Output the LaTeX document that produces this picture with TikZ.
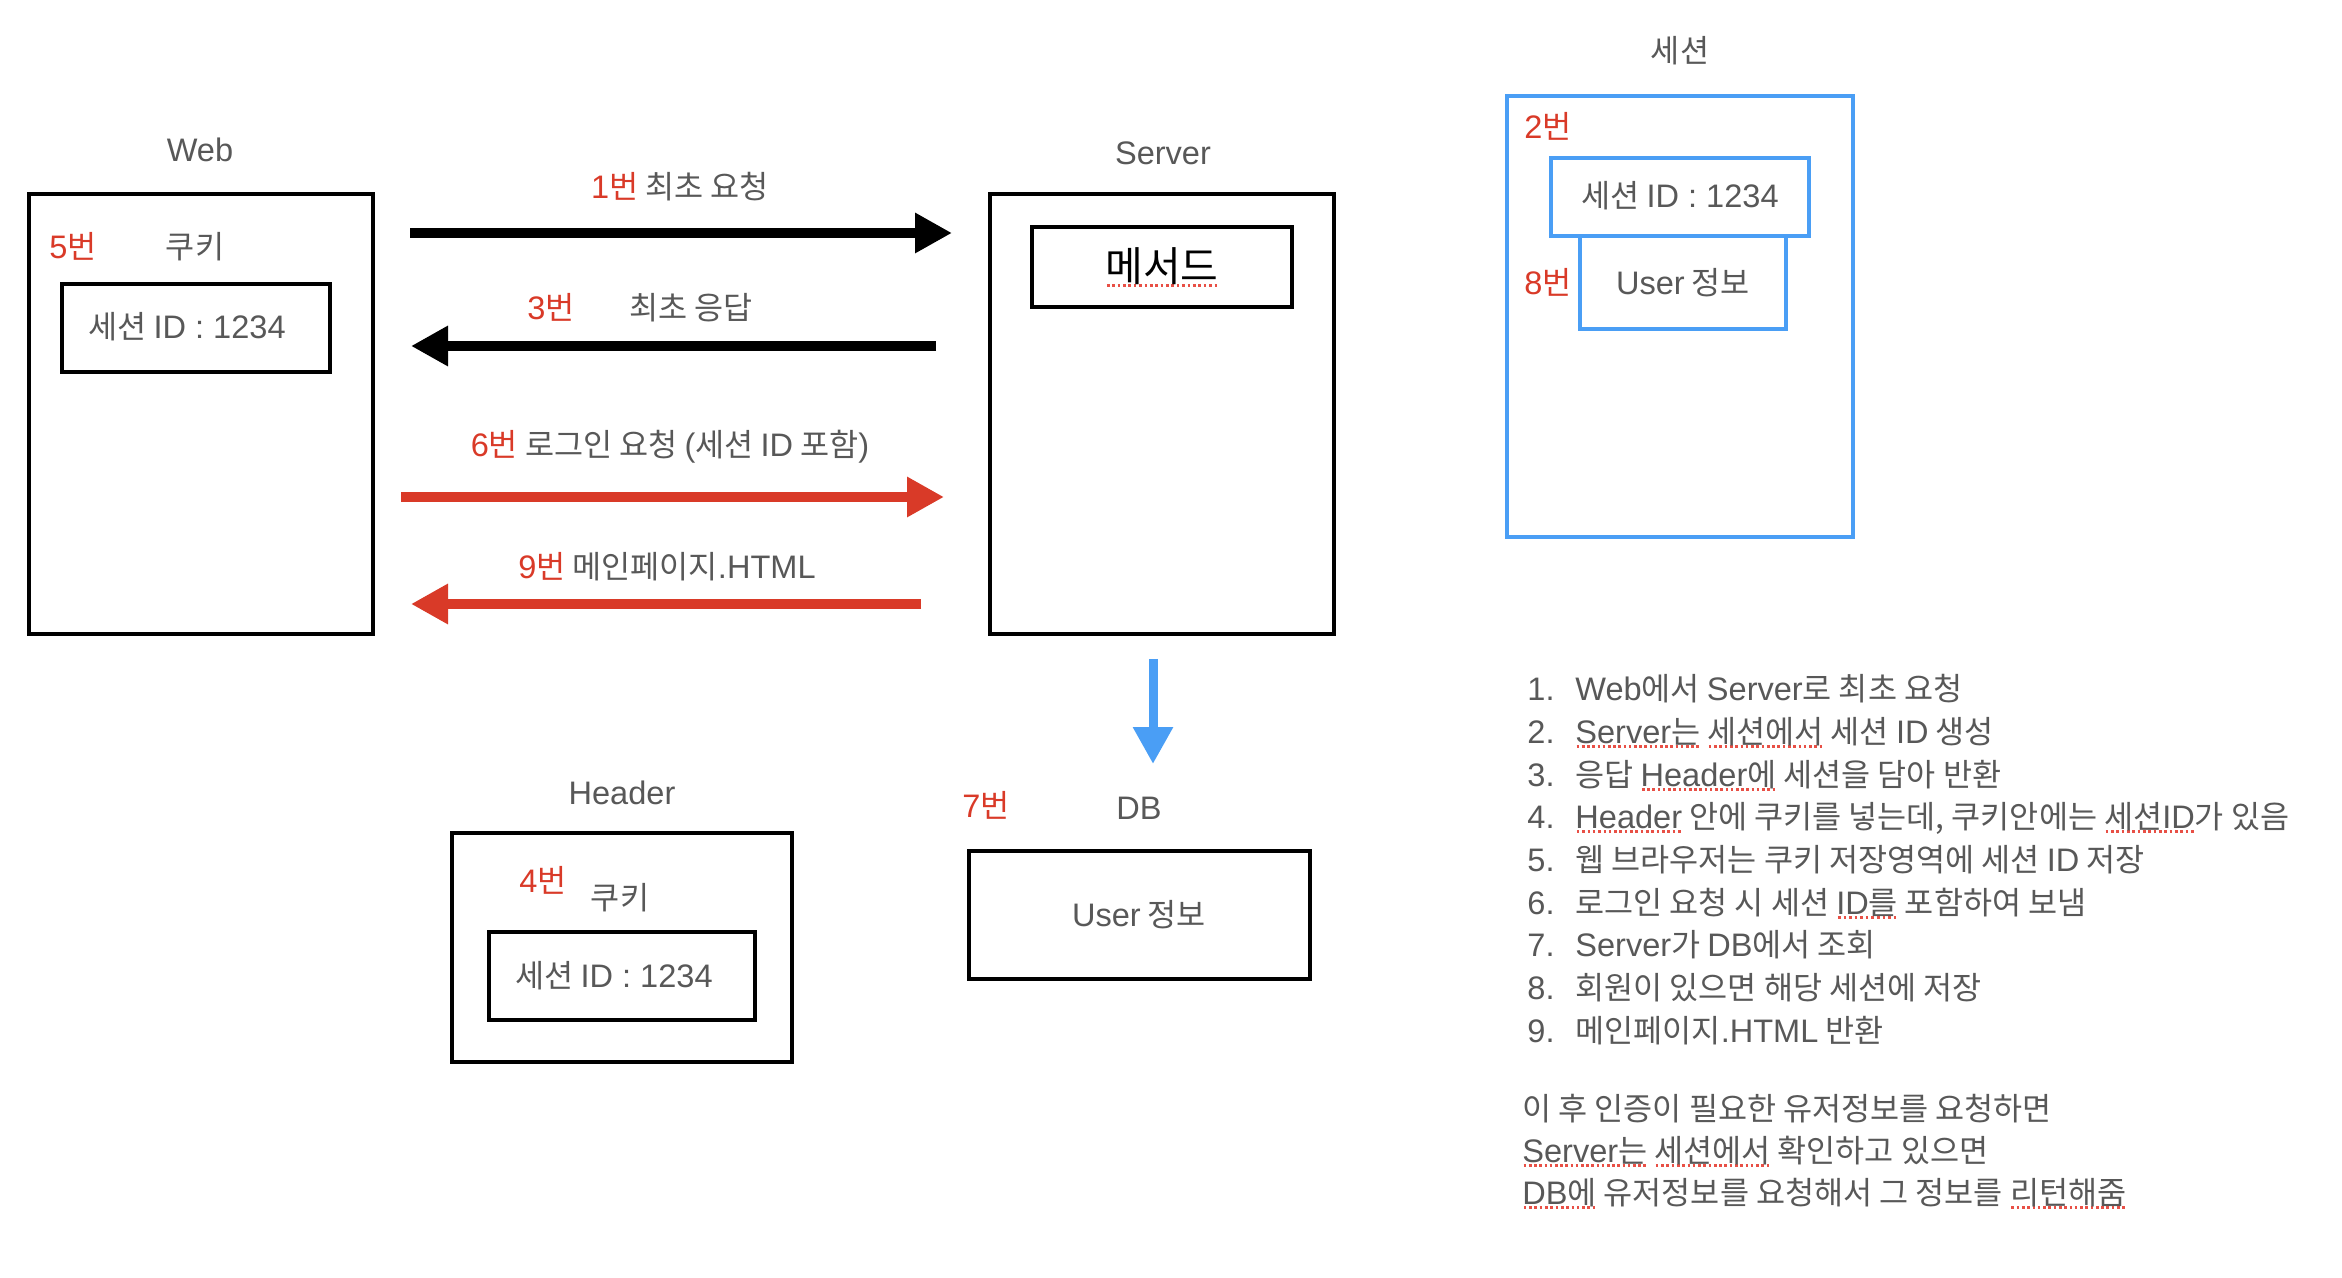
\documentclass[tikz,border=0pt]{standalone}
\usepackage{fontspec}
\setmainfont{Noto Sans CJK KR}
\newfontfamily\latfont[Scale=1.03]{Liberation Sans}
\usetikzlibrary{arrows.meta}
\definecolor{txtgray}{RGB}{88,88,88}
\definecolor{numred}{RGB}{217,58,40}
\definecolor{boxblue}{RGB}{74,158,245}
\definecolor{sqred}{RGB}{232,80,70}
\newcommand\lat[1]{{\latfont #1}}
\newcommand\nb[1]{\textcolor{numred}{#1}}
\newcommand\sq[1]{\setbox0=\hbox{#1}\rlap{\color{sqred}\hbox to \wd0{\xleaders\hbox to 2.6pt{\hss\vrule width 1.3pt height -1.2pt depth 2.3pt\hss}\hfill}}\box0\relax}
\begin{document}
\begin{tikzpicture}[x=0.5pt,y=-0.5pt,
  lbl/.style={inner sep=0pt, anchor=base, text=txtgray, font=\fontsize{15.8}{18}\selectfont},
  lst/.style={inner sep=0pt, anchor=base west, text=txtgray, font=\fontsize{15.8}{18}\selectfont},
  bbox/.style={draw=black, line width=2.2pt, inner sep=0pt},
  ubox/.style={draw=boxblue, line width=2.4pt, inner sep=0pt},
  blkarrow/.style={draw=black, line width=5pt, -{Triangle[length=18.5pt,width=19pt]}},
  redarrow/.style={draw=numred, line width=5pt, -{Triangle[length=18.5pt,width=19pt,fill=numred]}},
  bluearrow/.style={draw=boxblue, line width=4.5pt, -{Triangle[length=18.5pt,width=19pt,fill=boxblue]}}
]
\useasboundingbox (0,0) rectangle (2342,1278);

% ---------- Web ----------
\node[lbl] (webl) at (200,162) {\lat{Web}};
\node[bbox, minimum width=172pt, minimum height=220pt] (web) at (201,414) {};
\node[lbl, text=numred] (n5) at (73,259) {\lat{5}번};
\node[lbl] (cookie1) at (195,259) {쿠키};
\node[bbox, minimum width=134pt, minimum height=44pt] (wcbox) at (196,328) {};
\node[lbl] (wctext) at (187,339) {세션 \lat{ID : 1234}};

% ---------- Server ----------
\node[lbl] (serverl) at (1163,165) {\lat{Server}};
\node[bbox, minimum width=172pt, minimum height=220pt] (server) at (1162,414) {};
\node[bbox, minimum width=130pt, minimum height=40pt] (mbox) at (1162,267) {};
\node[inner sep=0pt, anchor=base, text=black, font=\fontsize{20.5}{24}\selectfont] (mtext) at (1162,282) {\sq{메서드}};

% ---------- arrows between Web and Server ----------
\coordinate (a1s) at (410,233);  \coordinate (a1e) at (952,233);
\coordinate (a3s) at (936,346);  \coordinate (a3e) at (411,346);
\coordinate (a6s) at (401,497);  \coordinate (a6e) at (944,497);
\coordinate (a9s) at (921,604);  \coordinate (a9e) at (411,604);
\draw[blkarrow] (a1s) -- (a1e);
\draw[blkarrow] (a3s) -- (a3e);
\draw[redarrow] (a6s) -- (a6e);
\draw[redarrow] (a9s) -- (a9e);
\node[lbl] (l1) at (680,199) {\nb{\lat{1}번} 최초 요청};
\node[lbl, text=numred] (l3n) at (551,320) {\lat{3}번};
\node[lbl] (l3) at (691,320) {최초 응답};
\node[lbl] (l6) at (670,457) {\nb{\lat{6}번} 로그인 요청 \lat{(}세션 \lat{ID} 포함\lat{)}};
\node[lbl] (l9) at (667,579) {\nb{\lat{9}번} 메인페이지\lat{.HTML}};

% ---------- Session ----------
\node[lbl] (sessl) at (1680,63) {세션};
\node[ubox, minimum width=173pt, minimum height=220.5pt] (sess) at (1680,316.5) {};
\node[lbl, text=numred] (n2) at (1548,139) {\lat{2}번};
\node[ubox, minimum width=103pt, minimum height=46.5pt] (sbox2) at (1683,282.5) {};
\node[ubox, minimum width=129pt, minimum height=39pt] (sbox1) at (1680,197) {};
\node[lbl] (s1text) at (1680,208) {세션 \lat{ID : 1234}};
\node[lbl, text=numred] (n8) at (1548,295) {\lat{8}번};
\node[lbl] (s2text) at (1683,295) {\lat{User} 정보};

% ---------- Header ----------
\node[lbl] (headl) at (622,804) {\lat{Header}};
\node[bbox, minimum width=170pt, minimum height=114.5pt] (head) at (622,947.5) {};
\node[lbl, text=numred] (n4) at (543,892) {\lat{4}번};
\node[lbl] (cookie2) at (620,909) {쿠키};
\node[bbox, minimum width=133pt, minimum height=44pt] (hcbox) at (622,976) {};
\node[lbl] (hctext) at (614,987) {세션 \lat{ID : 1234}};

% ---------- DB ----------
\coordinate (bs) at (1153,659); \coordinate (be) at (1153,764);
\draw[bluearrow] (bs) -- (be);
\node[lbl, text=numred] (n7) at (986,817) {\lat{7}번};
\node[lbl] (dbl) at (1139,819) {\lat{DB}};
\node[bbox, minimum width=170.5pt, minimum height=64pt] (db) at (1139.5,915) {};
\node[lbl] (dbtext) at (1139,926) {\lat{User} 정보};

% ---------- list ----------
\node[lst] (k1) at (1527,700) {\lat{1.}};
\node[lst] (t1) at (1575,700) {\lat{Web}에서 \lat{Server}로 최초 요청};
\node[lst] (k2) at (1527,743) {\lat{2.}};
\node[lst] (t2) at (1575,743) {\sq{\lat{Server}는} \sq{세션에서} 세션 \lat{ID} 생성};
\node[lst] (k3) at (1527,786) {\lat{3.}};
\node[lst] (t3) at (1575,786) {응답 \sq{\lat{Header}에} 세션을 담아 반환};
\node[lst] (k4) at (1527,828) {\lat{4.}};
\node[lst] (t4) at (1575,828) {\sq{\lat{Header}} 안에 쿠키를 넣는데, 쿠키안에는 \sq{세션\lat{ID}}가 있음};
\node[lst] (k5) at (1527,871) {\lat{5.}};
\node[lst] (t5) at (1575,871) {웹 브라우저는 쿠키 저장영역에 세션 \lat{ID} 저장};
\node[lst] (k6) at (1527,914) {\lat{6.}};
\node[lst] (t6) at (1575,914) {로그인 요청 시 세션 \sq{\lat{ID}를} 포함하여 보냄};
\node[lst] (k7) at (1527,956) {\lat{7.}};
\node[lst] (t7) at (1575,956) {\lat{Server}가 \lat{DB}에서 조회};
\node[lst] (k8) at (1527,999) {\lat{8.}};
\node[lst] (t8) at (1575,999) {회원이 있으면 해당 세션에 저장};
\node[lst] (k9) at (1527,1042) {\lat{9.}};
\node[lst] (t9) at (1575,1042) {메인페이지\lat{.HTML} 반환};

\node[lst] (p1) at (1522,1120) {이 후 인증이 필요한 유저정보를 요청하면};
\node[lst] (p2) at (1522,1162) {\sq{\lat{Server}는} \sq{세션에서} 확인하고 있으면};
\node[lst] (p3) at (1522,1204) {\sq{\lat{DB}에} 유저정보를 요청해서 그 정보를 \sq{리턴해줌}};
\end{tikzpicture}
\end{document}
